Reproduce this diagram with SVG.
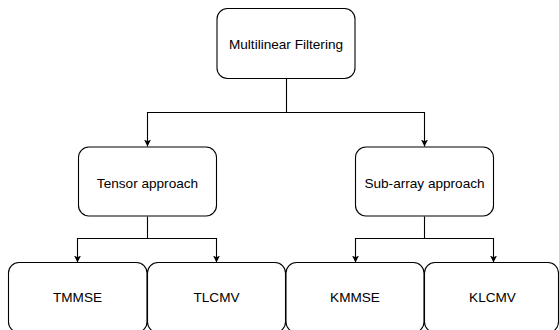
<svg xmlns="http://www.w3.org/2000/svg" width="559" height="330" viewBox="0 0 559 330">
<style>
.box{fill:#fff;stroke:#000;stroke-width:1.1}
.lbl{font-family:"Liberation Sans",Arial,sans-serif;font-size:13.6px;fill:#000;text-anchor:middle;dominant-baseline:central}
.edge{fill:none;stroke:#000;stroke-width:1.1}
</style>
<defs>
<marker id="arr" viewBox="0 0 10 10" refX="10" refY="5" markerWidth="7" markerHeight="7" markerUnits="userSpaceOnUse" orient="auto">
<path d="M0,0 L10,5 L0,10 L2.5,5 Z" fill="#000"/>
</marker>
</defs>
<rect width="559" height="330" fill="#fff"/>
<g id="connectors">
<path class="edge" d="M286.5,78.5 V112.5 H147.5 V146.5" marker-end="url(#arr)"/>
<path class="edge" d="M286.5,112.5 H424.5 V146.5" marker-end="url(#arr)"/>
<path class="edge" d="M147.5,216.5 V238.5 H77.5 V262.5" marker-end="url(#arr)"/>
<path class="edge" d="M147.5,238.5 H216.5 V262.5" marker-end="url(#arr)"/>
<path class="edge" d="M424.5,216.5 V238.5 H355.5 V262.5" marker-end="url(#arr)"/>
<path class="edge" d="M424.5,238.5 H493.5 V262.5" marker-end="url(#arr)"/>
</g>
<g id="multilinear">
<rect class="box" x="217" y="8.5" width="138" height="70" rx="10.5"/>
<text class="lbl" x="286" y="44.5">Multilinear Filtering</text>
</g>
<g id="tensor">
<rect class="box" x="78.5" y="147" width="138" height="69" rx="10.5"/>
<text class="lbl" x="147.5" y="183">Tensor approach</text>
</g>
<g id="subarray">
<rect class="box" x="355.5" y="147" width="138" height="69" rx="10.5"/>
<text class="lbl" x="424.5" y="183">Sub-array approach</text>
</g>
<g id="tmmse">
<rect class="box" x="8.5" y="262.5" width="138.5" height="70" rx="10.5"/>
<text class="lbl" x="77.5" y="297">TMMSE</text>
</g>
<g id="tlcmv">
<rect class="box" x="147.5" y="262.5" width="138" height="70" rx="10.5"/>
<text class="lbl" x="216.5" y="297">TLCMV</text>
</g>
<g id="kmmse">
<rect class="box" x="286" y="262.5" width="138" height="70" rx="10.5"/>
<text class="lbl" x="355" y="297">KMMSE</text>
</g>
<g id="klcmv">
<rect class="box" x="424.5" y="262.5" width="134" height="70" rx="10.5"/>
<text class="lbl" x="492.5" y="297">KLCMV</text>
</g>
</svg>
